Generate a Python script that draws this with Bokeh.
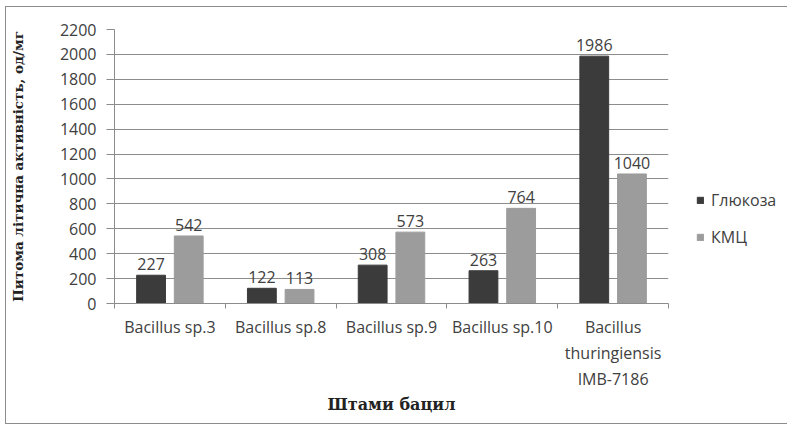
from bokeh.plotting import figure
from bokeh.models import ColumnDataSource, FixedTicker, Legend, LegendItem, LabelSet, Range1d
from bokeh.core.properties import value
from bokeh.transform import dodge
from bokeh.embed import file_html
from bokeh.resources import INLINE

categories = ["Bacillus sp.3", "Bacillus sp.8", "Bacillus sp.9", "Bacillus sp.10",
              "Bacillus\nthuringiensis\nIMB-7186"]
glucose = [227, 122, 308, 263, 1986]
cmc = [542, 113, 573, 764, 1040]
series_names = ["Глюкоза", "КМЦ"]
y_ticks = list(range(0, 2201, 200))

idx = list(range(len(categories)))
centers = [i + 0.5 for i in idx]
src_g = ColumnDataSource(dict(x=centers, y=glucose, lab=[str(v) for v in glucose]))
src_c = ColumnDataSource(dict(x=centers, y=cmc, lab=[str(v) for v in cmc]))

p = figure(frame_width=554, frame_height=274, output_backend="svg", toolbar_location=None,
           x_range=Range1d(0, len(categories)), y_range=Range1d(0, 2200),
           min_border_left=107, min_border_right=113, min_border_top=22, min_border_bottom=120,
           background_fill_color="white", border_fill_color="white",
           styles={"border": "1px solid #8c8c8c", "margin-left": "5px", "margin-top": "6px"})
p.outline_line_color = None

DARK = "#3b3b3b"
LIGHT = "#9c9c9c"
OFF = 0.17
BW = 0.26
rg = p.vbar(x=dodge("x", -OFF), top="y", width=BW, source=src_g, fill_color=DARK, line_color=DARK)
rc = p.vbar(x=dodge("x", OFF), top="y", width=BW, source=src_c, fill_color=LIGHT, line_color=LIGHT)

for src, off in ((src_g, -OFF), (src_c, OFF)):
    p.add_layout(LabelSet(x=dodge("x", off), y="y", text="lab", source=src,
                          text_align="center", text_baseline="bottom", y_offset=5,
                          text_font=value("Open Sans"), text_font_size=value("16px"),
                          text_color="#404040"))

TICK_FONT = "16px"
# axes
p.yaxis.ticker = FixedTicker(ticks=y_ticks)
p.yaxis.major_label_text_font = "Open Sans"
p.yaxis.major_label_text_font_size = TICK_FONT
p.yaxis.major_label_text_color = "#404040"
p.yaxis.major_label_standoff = 10
p.yaxis.axis_line_color = "#8c8c8c"
p.yaxis.major_tick_line_color = "#8c8c8c"
p.yaxis.major_tick_out = 8
p.yaxis.major_tick_in = 0
p.yaxis.minor_tick_line_color = None
p.yaxis.axis_label = "Питома літична активність, од/мг"
p.yaxis.axis_label_text_font = "DejaVu Serif"
p.yaxis.axis_label_text_font_style = "bold"
p.yaxis.axis_label_text_font_size = "13.5px"
p.yaxis.axis_label_text_color = "#222222"
p.yaxis.axis_label_standoff = 31

p.xaxis.ticker = FixedTicker(ticks=centers, minor_ticks=list(range(len(categories) + 1)))
p.xaxis.major_label_overrides = {c: lab for c, lab in zip(centers, categories)}
p.xaxis.major_tick_line_color = None
p.xaxis.minor_tick_line_color = "#8c8c8c"
p.xaxis.minor_tick_out = 5
p.xaxis.minor_tick_in = 0
p.xaxis.axis_line_color = "#8c8c8c"
p.xaxis.major_label_text_font = "Open Sans"
p.xaxis.major_label_text_font_size = TICK_FONT
p.xaxis.major_label_text_color = "#404040"
p.xaxis.major_label_standoff = 6
p.xaxis.axis_label = "Штами бацил"
p.xaxis.axis_label_text_font = "DejaVu Serif"
p.xaxis.axis_label_text_font_style = "bold"
p.xaxis.axis_label_text_font_size = "16px"
p.xaxis.axis_label_text_color = "#222222"
p.xaxis.axis_label_standoff = 2

p.xgrid.grid_line_color = None
p.ygrid.ticker = FixedTicker(ticks=y_ticks)
p.ygrid.grid_line_color = "#8c8c8c"

legend = Legend(items=[LegendItem(label=series_names[0], renderers=[rg]),
                       LegendItem(label=series_names[1], renderers=[rc])],
                location=(28, 55), orientation="vertical", padding=0, margin=0,
                label_text_font="Open Sans", label_text_font_size="16px",
                label_text_color="#404040", glyph_width=8, glyph_height=8,
                label_standoff=7, spacing=15, border_line_color=None,
                background_fill_alpha=0)
p.add_layout(legend, "right")

open("out.html", "w").write(file_html(p, INLINE))
